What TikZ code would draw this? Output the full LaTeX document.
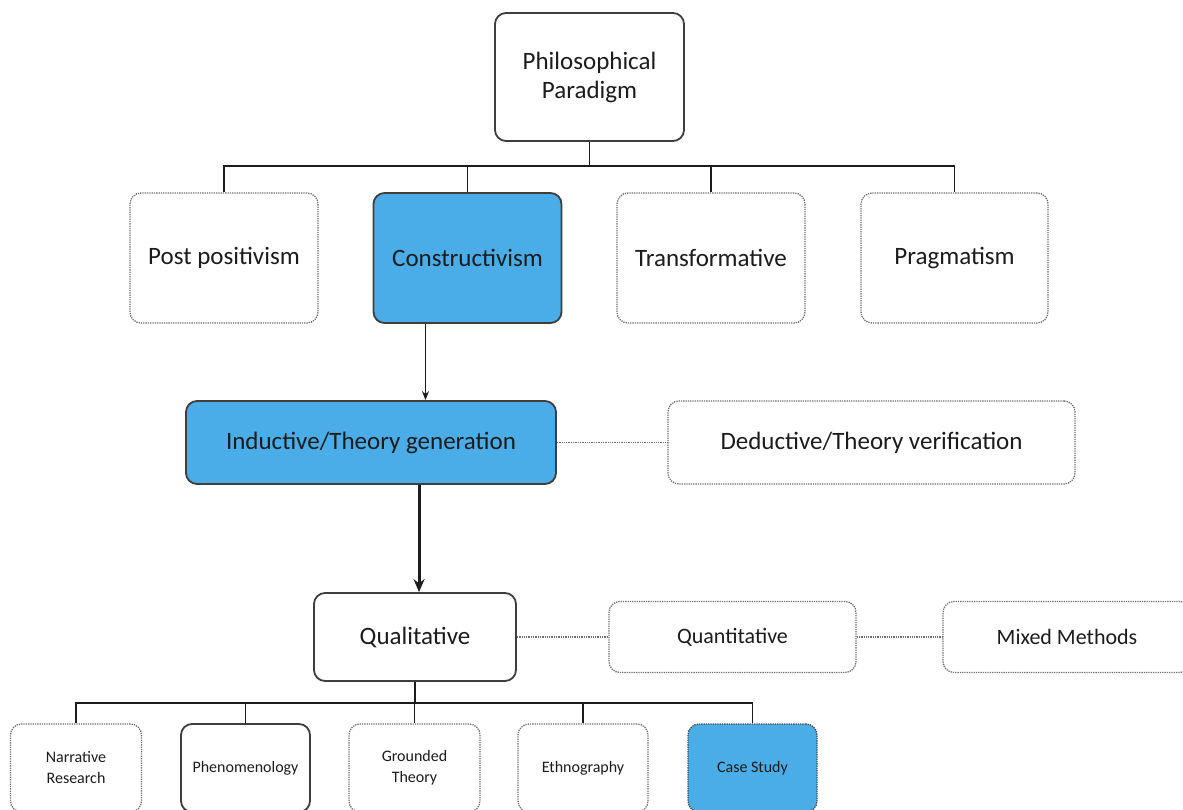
\documentclass[tikz,border=0pt]{standalone}
\usepackage{fontspec}
\setmainfont{Carlito}
\usetikzlibrary{arrows.meta,calc}
\definecolor{boxblue}{HTML}{4AADE8}
\definecolor{ink}{HTML}{1C1C1C}
\definecolor{dotgray}{HTML}{707070}
\tikzset{
  base/.style={rounded corners=11pt, inner sep=0pt, align=center, text=ink},
  solidbox/.style={base, draw=ink!85, line width=1.8pt, fill=white},
  dotbox/.style={base, draw=dotgray, line width=1.3pt, dash pattern=on 1.3pt off 1pt, fill=white},
  bluebox/.style={base, draw=ink!85, line width=1.8pt, fill=boxblue},
  bluedot/.style={base, draw=ink!80, line width=1.3pt, dash pattern=on 1.3pt off 1pt, fill=boxblue},
  big/.style={font=\fontsize{25}{29}\selectfont},
  mid/.style={font=\fontsize{22}{26}\selectfont},
  small/.style={font=\fontsize{16}{21}\selectfont},
  toprow/.style={minimum width=188pt, minimum height=130pt},
  leaf/.style={minimum width=131pt, minimum height=88pt},
  tree/.style={draw=ink, line width=1.6pt},
  dotlink/.style={draw=dotgray, line width=1.3pt, dash pattern=on 1.3pt off 1pt},
}
\begin{document}
\begin{tikzpicture}[x=1pt,y=-1pt]
\useasboundingbox (0,0) rectangle (1183,810);

% paradigm level
\node[solidbox, big, minimum width=189pt, minimum height=128pt] (phil) at (589.5,77) {Philosophical\\Paradigm};
\node[dotbox, big, toprow] (post) at (224,258) {Post positivism};
\node[bluebox, big, toprow] (cons) at (467.5,258) {Constructivism};
\node[dotbox, big, toprow] (trans) at (711,258) {\raisebox{-5pt}{Transformative}};
\node[dotbox, big, toprow, minimum width=187pt] (prag) at (954.5,258) {Pragmatism};

\coordinate (bus) at (589.5,166);
\draw[tree] (phil.south) -- (bus);
\draw[tree] (bus) -| (post.north);
\draw[tree] (bus) -| (cons.north);
\draw[tree] (bus) -| (trans.north);
\draw[tree] (bus) -| (prag.north);

% reasoning level
\node[bluebox, big, minimum width=370pt, minimum height=83pt] (ind) at (371,442.5) {Inductive/Theory generation};
\node[dotbox, big, minimum width=407pt, minimum height=83pt] (ded) at (871.5,442.5) {Deductive/Theory verification};
\draw[dotlink] (ind.east) -- (ded.west);

\draw[draw=ink, line width=1.2pt, -{Stealth[length=9pt,width=7pt]}]
  ([xshift=-42pt]cons.south) -- ([xshift=-42pt]cons.south |- ind.north);

% method level
\node[solidbox, big, minimum width=202pt, minimum height=88pt] (qual) at (415,637) {Qualitative};
\node[dotbox, mid, minimum width=247pt, minimum height=71pt] (quant) at (732.5,637) {Quantitative};
\node[dotbox, mid, minimum width=248pt, minimum height=71pt] (mixed) at (1067,637) {Mixed Methods};
\draw[dotlink] (qual.east) -- (quant.west);
\draw[dotlink] (quant.east) -- (mixed.west);

\draw[draw=ink, line width=3pt, -{Stealth[length=13pt,width=11pt]}]
  ([xshift=4pt]qual.north |- ind.south) -- ([xshift=4pt]qual.north);

% strategies of inquiry
\node[dotbox, small, leaf] (narr) at (76,768) {Narrative\\Research};
\node[solidbox, small, leaf, minimum width=129pt] (phen) at (245.5,768) {Phenomenology};
\node[dotbox, small, leaf] (grnd) at (414.5,768) {Grounded\\Theory};
\node[dotbox, small, leaf, minimum width=130pt] (ethn) at (583,768) {Ethnography};
\node[bluedot, small, leaf, minimum width=129pt] (case) at (752.5,768) {Case Study};

\coordinate (bus2) at (415,703);
\draw[tree] (qual.south) -- (bus2);
\draw[tree] (bus2) -| (narr.north);
\draw[tree] (bus2) -| (phen.north);
\draw[tree] (bus2) -| (grnd.north);
\draw[tree] (bus2) -| (ethn.north);
\draw[tree] (bus2) -| (case.north);
\end{tikzpicture}
\end{document}
